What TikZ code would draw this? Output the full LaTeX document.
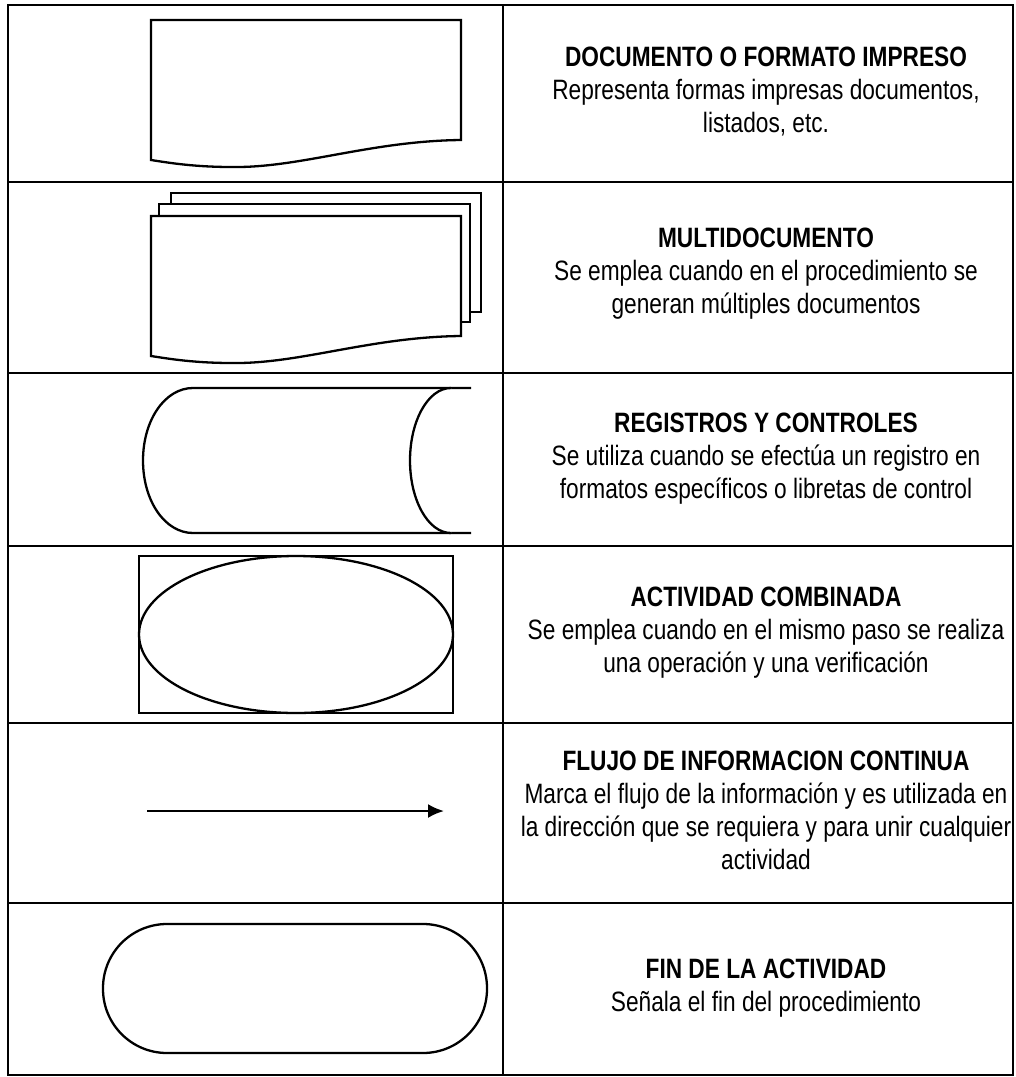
\documentclass[tikz,border=0pt]{standalone}
\usepackage{fontspec}
\setmainfont{Liberation Sans}[FakeStretch=0.81]
\usepackage{tikz}
\usetikzlibrary{arrows.meta}

\begin{document}
\begin{tikzpicture}[x=1pt, y=-1pt,
grid/.style = {line width = 1.5pt},
shp/.style = {line width = 2.3pt, fill = white},
desc/.style = {align = center, font = \fontsize{28}{33}\selectfont, inner sep = 0pt}
]
\useasboundingbox (0,0) rectangle (1016,1077);
% table
\draw[grid] (8,5) rectangle (1013,1075);
\draw[grid] (503,5) -- (503,1075);
\foreach \r in {182, 373, 546, 723, 903}{\draw[grid] (8,\r) -- (1013,\r);}
% documento
\draw[shp] (151,20) -- (461,20) -- (461,140) .. controls (370,141) and (300,168) .. (232,167) .. controls (195,167) and (170,163) .. (151,160) -- cycle;
% multidocumento
\draw[shp] (171,193) rectangle (481,312);
\draw[shp] (159,204) rectangle (470,322);
\begin{scope}[shift = {(0,196)}]
\draw[shp] (151,20) -- (461,20) -- (461,140) .. controls (370,141) and (300,168) .. (232,167) .. controls (195,167) and (170,163) .. (151,160) -- cycle;
\end{scope}
% registros
\draw[shp] (471,388) -- (193,388) .. controls (165,388) and (143,420) .. (143,460.5) .. controls (143,501) and (165,533) .. (193,533) -- (471,533);
\draw[shp] (451,388) .. controls (428,388) and (410,421) .. (410,460.5) .. controls (410,500) and (428,533) .. (451,533);
% actividad combinada
\draw[shp] (139,556) rectangle (453,713);
\draw[shp] (296,634.5) ellipse [x radius = 157, y radius = 78.5];
% flujo
\coordinate (f1) at (147,811);
\coordinate (f2) at (444,811);
\draw[line width = 2.3pt, -{Latex[length = 16pt, width = 14pt]}] (f1) -- (f2);
% fin
\draw[shp, rounded corners = 64pt] (103,924) rectangle (487,1053);
% textos
\node[desc] (t1) at (766,92) {\textbf{DOCUMENTO O FORMATO IMPRESO}\\Representa formas impresas documentos,\\listados, etc.};
\node[desc] (t2) at (766,274) {\textbf{MULTIDOCUMENTO}\\Se emplea cuando en el procedimiento se\\generan múltiples documentos};
\node[desc] (t3) at (766,459) {\textbf{REGISTROS Y CONTROLES}\\Se utiliza cuando se efectúa un registro en\\formatos específicos o libretas de control};
\node[desc] (t4) at (766,633) {\textbf{ACTIVIDAD COMBINADA}\\Se emplea cuando en el mismo paso se realiza\\una operación y una verificación};
\node[desc] (t5) at (766,810) {\textbf{FLUJO DE INFORMACION CONTINUA}\\Marca el flujo de la información y es utilizada en\\la dirección que se requiera y para unir cualquier\\actividad};
\node[desc] (t6) at (766,988) {\textbf{FIN DE LA ACTIVIDAD}\\Señala el fin del procedimiento};
\end{tikzpicture}
\end{document}
